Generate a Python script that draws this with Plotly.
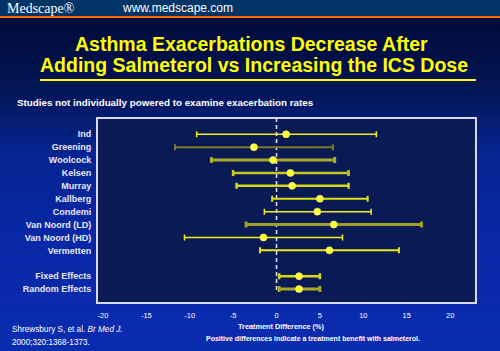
import plotly.graph_objects as go

# ---------------- data ----------------
studies = ["Ind", "Greening", "Woolcock", "Kelsen", "Murray", "Kallberg", "Condemi",
           "Van Noord (LD)", "Van Noord (HD)", "Vermetten", "Fixed Effects", "Random Effects"]
row_pos = [0, 1, 2, 3, 4, 5, 6, 7, 8, 9, 11, 12]
estimate = [1.1, -2.6, -0.4, 1.6, 1.8, 5.0, 4.7, 6.6, -1.5, 6.1, 2.6, 2.6]
ci_low = [-9.2, -11.7, -7.5, -5.0, -4.6, -0.5, -1.4, -3.5, -10.6, -1.9, 0.3, 0.3]
ci_high = [11.5, 6.5, 6.7, 8.3, 8.3, 10.5, 10.9, 16.7, 7.6, 14.1, 5.0, 5.0]
x_ticks = [-20, -15, -10, -5, 0, 5, 10, 15, 20]
x_tick_labels = ["-20", "-15", "-10", "-5", "0", "5", "10", "15", "20"]

# per-row line styles (colour, thickness)
bar_colors = ["#F2F20A", "#7A7A2A", "#A8A828", "#C8C820", "#D8D818", "#E0E010", "#F0F020",
              "#A0A028", "#F0F020", "#E8E818", "#D8D818", "#A8A828"]
bar_widths = [1.5, 2, 3, 2.5, 2.5, 2, 1.5, 3, 1.5, 2, 2.5, 3]

W, H = 500, 351
L, R, T, B = 97, 476, 118, 303
FONT = "Liberation Sans, Arial, sans-serif"


def px(x):
    return (x - L) / (R - L)


def py(y):
    return (B - y) / (B - T)


X_RANGE = [-20.68, 22.98]
Y_TOP, Y_BOT = -1.26, 13.08

fig = go.Figure()

# zero reference line (dashed)
fig.add_trace(go.Scatter(
    x=[0, 0], y=[Y_TOP, row_pos[-1] + 0.1], mode="lines",
    line=dict(color="#E4E4FF", width=1.5, dash="4px,3px"),
    hoverinfo="skip", showlegend=False))

for i, name in enumerate(studies):
    fig.add_trace(go.Scatter(
        x=[estimate[i]], y=[row_pos[i]], mode="markers",
        marker=dict(size=7, color="#FFFF2A", line=dict(color="rgba(255,255,160,0.6)", width=1)),
        error_x=dict(type="data", symmetric=False,
                     array=[ci_high[i] - estimate[i]],
                     arrayminus=[estimate[i] - ci_low[i]],
                     color=bar_colors[i], thickness=bar_widths[i], width=3),
        name=name, showlegend=False))

shapes = []
# background gradient
stops = [(18, (0, 10, 58)), (90, (3, 21, 85)), (150, (6, 36, 144)),
         (250, (8, 40, 168)), (351, (10, 44, 176))]
n = 70
for k in range(n):
    y0 = 18 + (351 - 18) * k / n
    y1 = 18 + (351 - 18) * (k + 1) / n + 0.6
    ym = (y0 + y1) / 2
    for j in range(len(stops) - 1):
        if stops[j][0] <= ym <= stops[j + 1][0]:
            t = (ym - stops[j][0]) / (stops[j + 1][0] - stops[j][0])
            c = [round(stops[j][1][m] + t * (stops[j + 1][1][m] - stops[j][1][m])) for m in range(3)]
            break
    shapes.append(dict(type="rect", xref="paper", yref="paper", layer="below",
                       x0=px(0), x1=px(W), y0=py(y1), y1=py(y0),
                       fillcolor=f"rgb({c[0]},{c[1]},{c[2]})", line=dict(width=0)))
# header bar and orange rule
shapes.append(dict(type="rect", xref="paper", yref="paper", layer="below",
                   x0=px(0), x1=px(W), y0=py(16), y1=py(0),
                   fillcolor="#003366", line=dict(width=0)))
shapes.append(dict(type="rect", xref="paper", yref="paper", layer="below",
                   x0=px(0), x1=px(W), y0=py(18), y1=py(16),
                   fillcolor="#FF6600", line=dict(width=0)))
# title underline
shapes.append(dict(type="line", xref="paper", yref="paper", layer="below",
                   x0=px(40), x1=px(476), y0=py(80), y1=py(80),
                   line=dict(color="#FFFF00", width=2)))
# plot area fill and border
shapes.append(dict(type="rect", xref="paper", yref="paper", layer="below",
                   x0=0, x1=1, y0=0, y1=1, fillcolor="#0A1A55",
                   line=dict(color="#D8D8EC", width=2)))

ann = []


def text(x, y, s, size, bold=False, color="white", xanchor="left", family=FONT):
    ann.append(dict(xref="paper", yref="paper", x=px(x), y=py(y), text=(f"<b>{s}</b>" if bold else s),
                    showarrow=False, xanchor=xanchor, yanchor="middle",
                    font=dict(family=family, size=size, color=color)))


text(5, 8, "Medscape®", 14, color="white", family="Liberation Serif, Times New Roman, serif")
text(120, 8, "www.medscape.com", 12, color="white")
text(251, 44, "Asthma Exacerbations Decrease After", 19.5, bold=True, color="#FFFF00", xanchor="center")
text(254, 65, "Adding Salmeterol vs Increasing the ICS Dose", 19.5, bold=True, color="#FFFF00", xanchor="center")
text(15, 102, "Studies not individually powered to examine exacerbation rates", 9.8, bold=True)
text(281, 326, "Treatment Difference (%)", 7.3, bold=True, xanchor="center")
text(204, 338, "Positive differences indicate a treatment benefit with salmeterol.", 7, bold=True)
text(10, 329, "Shrewsbury S, et al. <i>Br Med J.</i>", 8.2)
text(10, 342, "2000;320:1368-1373.", 8.2)

fig.update_layout(
    width=W, height=H,
    margin=dict(l=L, r=W - R, t=T, b=H - B, pad=0),
    paper_bgcolor="#000A3A", plot_bgcolor="rgba(0,0,0,0)",
    shapes=shapes, annotations=ann,
    xaxis=dict(range=X_RANGE, tickvals=x_ticks, ticktext=x_tick_labels,
               showgrid=False, zeroline=False, showline=False,
               ticks="outside", ticklen=5, tickcolor="rgba(0,0,0,0)",
               tickfont=dict(family=FONT, size=7.5, color="white")),
    yaxis=dict(range=[Y_BOT, Y_TOP], tickvals=row_pos,
               ticktext=[f"<b>{s}</b>" for s in studies],
               showgrid=False, zeroline=False, showline=False,
               ticks="outside", ticklen=3, tickcolor="rgba(0,0,0,0)",
               tickfont=dict(family=FONT, size=9, color="#E8E8F4")),
    hovermode=False,
)
fig.update_xaxes(tickprefix="<b>", ticksuffix="</b>")

fig.write_html("out.html")
